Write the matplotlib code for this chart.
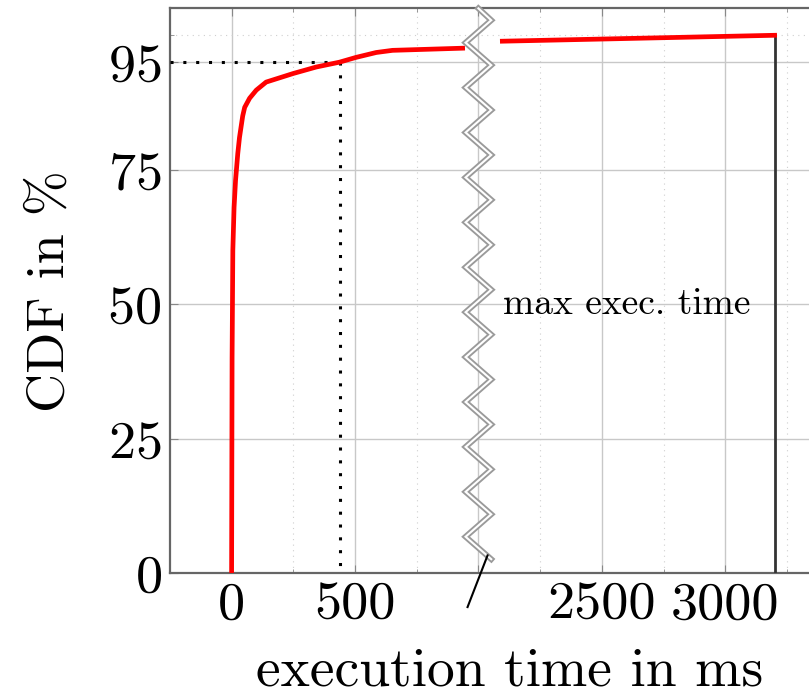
import numpy as np
import matplotlib
matplotlib.use("Agg")
import matplotlib.pyplot as plt

plt.rcParams['font.family'] = ['cmr10', 'DejaVu Serif']
plt.rcParams['mathtext.fontset'] = 'cm'
plt.rcParams['axes.formatter.use_mathtext'] = True

# CDF of execution times (ms, %)
exec_ms = [0, 2, 5, 10, 16, 25, 32, 45, 53, 73, 100, 140, 250, 343, 437, 505, 586, 652, 936,
           2097, 2500, 3200]
cdf_pct = [0, 40, 60, 68, 73, 78, 81, 85, 86.6, 88.3, 89.8, 91.3, 92.9, 94.1, 95.0, 95.9, 96.8,
           97.2, 97.6, 98.9, 99.3, 100]
p95_ms = 440
p95_pct = 95
max_ms = 3200

xticks_ms = [0, 500, 2000, 2500, 3000]
xtick_labels = ['0', '500', '', '2500', '3000']
yticks = [0, 25, 50, 75, 95]

# axis break: everything from 2000 ms on is shifted left by 1000
break_lo, break_hi = 1000, 2000
shift = break_hi - break_lo


def to_plot(x):
    x = np.asarray(x, dtype=float)
    return np.where(x >= break_hi, x - shift, x)


fig = plt.figure(figsize=(8.09, 6.99), dpi=100)
ax = fig.add_axes([0.210, 0.180, 0.839, 0.808])

ax.set_xlim(-250, 2500)
ax.set_ylim(0, 105)

ax.set_xticks(to_plot(xticks_ms))
ax.set_xticklabels(xtick_labels)
ax.set_xticks([250, 750, 1250, 1750, 2250], minor=True)
ax.set_yticks(yticks)
ax.set_yticks([100], minor=True)

ax.grid(True, which='major', color='#c8c8c8', lw=1.0)
ax.grid(True, which='minor', color='#cfcfcf', lw=0.8, ls=(0, (1, 4)))
ax.set_axisbelow(True)

for s in ax.spines.values():
    s.set_color('#666666')
    s.set_linewidth(1.6)

ax.tick_params(which='both', direction='in', top=True, right=True, color='#888888',
               labelsize=39, pad=6)
ax.tick_params(which='major', length=6)
ax.tick_params(which='minor', length=3)

xp = to_plot(exec_ms)
cdf = np.asarray(cdf_pct)
left = np.asarray(exec_ms) <= break_lo
ax.plot(xp[left], cdf[left], color='#ff0000', lw=3.4, solid_joinstyle='round', zorder=4)
ax.plot(xp[~left], cdf[~left], color='#ff0000', lw=3.4, zorder=4)

# 95th percentile guide
dots = (0, (1, 3.2))
ax.plot([-250, p95_ms], [p95_pct, p95_pct], color='black', lw=2.2, ls=dots, zorder=3)
ax.plot([p95_ms, p95_ms], [p95_pct, 0], color='black', lw=2.2, ls=dots, zorder=3)

# max execution time
mx = float(to_plot(max_ms))
ax.plot([mx, mx], [0, cdf_pct[-1]], color='#333333', lw=2.0, zorder=3)
ax.text(float(to_plot(2600)), 50, 'max exec. time', fontsize=27, ha='center', va='center')

# zigzag break mark
n_half = 24
zy = np.linspace(102.8, 2.6, n_half + 1)
zx = np.where(np.arange(n_half + 1) % 2 == 0, break_lo + 52, break_lo - 52)
zx = np.concatenate([[break_lo], zx])
zy = np.concatenate([[105], zy])
ax.plot(zx, zy, color='#9a9a9a', lw=4.2, solid_joinstyle='miter', clip_on=False, zorder=5)
ax.plot(zx, zy, color='white', lw=1.5, solid_joinstyle='miter', clip_on=False, zorder=6)
ax.plot([1037, 956], [3.3, -6.3], color='black', lw=1.5, clip_on=False, zorder=7)

ax.set_xlabel('execution time in ms', fontsize=40, labelpad=13)
ax.set_ylabel('CDF in %', fontsize=39, labelpad=24)

fig.savefig('out.png', dpi=100)
